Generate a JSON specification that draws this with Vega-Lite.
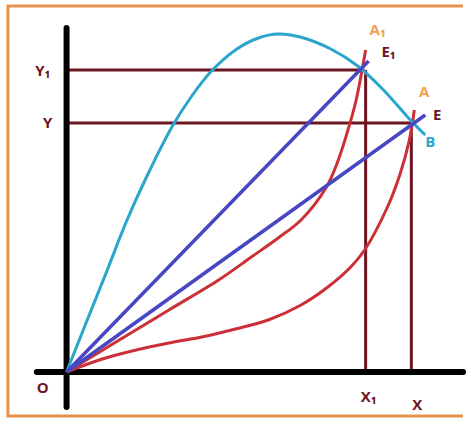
{
  "$schema": "https://vega.github.io/schema/vega-lite/v6.json",
  "width": 466,
  "height": 422,
  "autosize": {"type": "fit", "contains": "padding"},
  "padding": 0,
  "background": "white",
  "config": {"view": {"stroke": null}},
  "datasets": {
    "frame": [{"x": -59, "x2": 410, "y": -44, "y2": 366}],
    "rules": [
      {"name": "Y1", "x": 0, "y": 302, "x2": 300, "y2": 302, "kind": "guide"},
      {"name": "Y", "x": 0, "y": 249, "x2": 348, "y2": 249, "kind": "guide"},
      {"name": "X1", "x": 301, "y": 0, "x2": 301, "y2": 302, "kind": "guide"},
      {"name": "X", "x": 347, "y": 0, "x2": 347, "y2": 249, "kind": "guide"},
      {"name": "yaxis", "x": 0, "y": -35, "x2": 0, "y2": 344, "kind": "axis"},
      {"name": "xaxis", "x": -30, "y": 0, "x2": 399, "y2": 0, "kind": "axis"},
      {"name": "OE1", "x": 0, "y": 0, "x2": 304, "y2": 311, "kind": "ray"},
      {"name": "OE", "x": 0, "y": 0, "x2": 361, "y2": 257, "kind": "ray"}
    ],
    "curves": [
      {"curve": "red1", "x": 0, "y": 0},
      {"curve": "red1", "x": 53, "y": 32},
      {"curve": "red1", "x": 103, "y": 62},
      {"curve": "red1", "x": 153, "y": 92},
      {"curve": "red1", "x": 186, "y": 115},
      {"curve": "red1", "x": 213, "y": 134},
      {"curve": "red1", "x": 236, "y": 152},
      {"curve": "red1", "x": 261, "y": 184},
      {"curve": "red1", "x": 272, "y": 208},
      {"curve": "red1", "x": 282, "y": 238},
      {"curve": "red1", "x": 291, "y": 270},
      {"curve": "red1", "x": 301, "y": 322},
      {"curve": "red2", "x": 0, "y": 0},
      {"curve": "red2", "x": 36, "y": 13},
      {"curve": "red2", "x": 70, "y": 22},
      {"curve": "red2", "x": 103, "y": 29},
      {"curve": "red2", "x": 136, "y": 35},
      {"curve": "red2", "x": 170, "y": 43},
      {"curve": "red2", "x": 203, "y": 52},
      {"curve": "red2", "x": 236, "y": 67},
      {"curve": "red2", "x": 263, "y": 85},
      {"curve": "red2", "x": 286, "y": 105},
      {"curve": "red2", "x": 300, "y": 122},
      {"curve": "red2", "x": 323, "y": 165},
      {"curve": "red2", "x": 336, "y": 199},
      {"curve": "red2", "x": 345, "y": 232},
      {"curve": "red2", "x": 350, "y": 262},
      {"curve": "cyan", "x": 0, "y": 0},
      {"curve": "cyan", "x": 20, "y": 50},
      {"curve": "cyan", "x": 41, "y": 102},
      {"curve": "cyan", "x": 60, "y": 150},
      {"curve": "cyan", "x": 80, "y": 194},
      {"curve": "cyan", "x": 106, "y": 245},
      {"curve": "cyan", "x": 126, "y": 276},
      {"curve": "cyan", "x": 145, "y": 300},
      {"curve": "cyan", "x": 170, "y": 322},
      {"curve": "cyan", "x": 193, "y": 334},
      {"curve": "cyan", "x": 213, "y": 338},
      {"curve": "cyan", "x": 235, "y": 335},
      {"curve": "cyan", "x": 266, "y": 323},
      {"curve": "cyan", "x": 293, "y": 306},
      {"curve": "cyan", "x": 318, "y": 283},
      {"curve": "cyan", "x": 346, "y": 252},
      {"curve": "cyan", "x": 361, "y": 237}
    ],
    "labels": [
      {"text": "A₁", "x": 313, "y": 342, "kind": "orange"},
      {"text": "E₁", "x": 324, "y": 320, "kind": "maroon"},
      {"text": "A", "x": 360, "y": 280, "kind": "orange"},
      {"text": "E", "x": 373, "y": 257, "kind": "maroon"},
      {"text": "B", "x": 366, "y": 230, "kind": "cyan"},
      {"text": "Y₁", "x": -24, "y": 301, "kind": "maroon"},
      {"text": "Y", "x": -19, "y": 249, "kind": "maroon"},
      {"text": "O", "x": -24, "y": -16, "kind": "maroon"},
      {"text": "X₁", "x": 304, "y": -25, "kind": "maroon"},
      {"text": "X", "x": 353, "y": -33, "kind": "maroon"}
    ]
  },
  "layer": [
    {
      "data": {"name": "frame"},
      "mark": {"type": "rect", "fill": null, "stroke": "#E8914B", "strokeWidth": 3, "clip": true},
      "encoding": {
        "x": {"field": "x", "type": "quantitative", "scale": {"domain": [-67, 399], "nice": false, "zero": false}, "axis": null},
        "x2": {"field": "x2"},
        "y": {"field": "y", "type": "quantitative", "scale": {"domain": [-50, 372], "nice": false, "zero": false}, "axis": null},
        "y2": {"field": "y2"}
      }
    },
    {
      "data": {"name": "rules"},
      "transform": [{"filter": "datum.kind === 'guide'"}],
      "mark": {"type": "rule", "stroke": "#6E1522", "strokeWidth": 3},
      "encoding": {
        "x": {"field": "x", "type": "quantitative", "axis": null},
        "x2": {"field": "x2"},
        "y": {"field": "y", "type": "quantitative", "axis": null},
        "y2": {"field": "y2"}
      }
    },
    {
      "data": {"name": "rules"},
      "transform": [{"filter": "datum.kind === 'axis'"}],
      "mark": {"type": "rule", "stroke": "#000000", "strokeWidth": 6, "strokeCap": "round"},
      "encoding": {
        "x": {"field": "x", "type": "quantitative", "axis": null},
        "x2": {"field": "x2"},
        "y": {"field": "y", "type": "quantitative", "axis": null},
        "y2": {"field": "y2"}
      }
    },
    {
      "data": {"name": "curves"},
      "transform": [{"filter": "datum.curve !== 'cyan'"}],
      "mark": {"type": "line", "stroke": "#CC2F35", "strokeWidth": 3, "interpolate": "catmull-rom"},
      "encoding": {
        "x": {"field": "x", "type": "quantitative", "axis": null},
        "y": {"field": "y", "type": "quantitative", "axis": null},
        "detail": {"field": "curve"},
        "order": {"field": "x", "type": "quantitative"}
      }
    },
    {
      "data": {"name": "curves"},
      "transform": [{"filter": "datum.curve === 'cyan'"}],
      "mark": {"type": "line", "stroke": "#2AA5CB", "strokeWidth": 3, "interpolate": "catmull-rom"},
      "encoding": {
        "x": {"field": "x", "type": "quantitative", "axis": null},
        "y": {"field": "y", "type": "quantitative", "axis": null},
        "order": {"field": "x", "type": "quantitative"}
      }
    },
    {
      "data": {"name": "rules"},
      "transform": [{"filter": "datum.kind === 'ray'"}],
      "mark": {"type": "rule", "stroke": "#4747C4", "strokeWidth": 3.5},
      "encoding": {
        "x": {"field": "x", "type": "quantitative", "axis": null},
        "x2": {"field": "x2"},
        "y": {"field": "y", "type": "quantitative", "axis": null},
        "y2": {"field": "y2"}
      }
    },
    {
      "data": {"name": "labels"},
      "mark": {"type": "text", "font": "Open Sans", "fontWeight": "bold", "fontSize": 15, "align": "center", "baseline": "middle"},
      "encoding": {
        "x": {"field": "x", "type": "quantitative", "axis": null},
        "y": {"field": "y", "type": "quantitative", "axis": null},
        "text": {"field": "text"},
        "color": {
          "field": "kind",
          "type": "nominal",
          "scale": {"domain": ["orange", "maroon", "cyan"], "range": ["#F0A050", "#6E1522", "#2AA5CB"]},
          "legend": null
        }
      }
    }
  ]
}
